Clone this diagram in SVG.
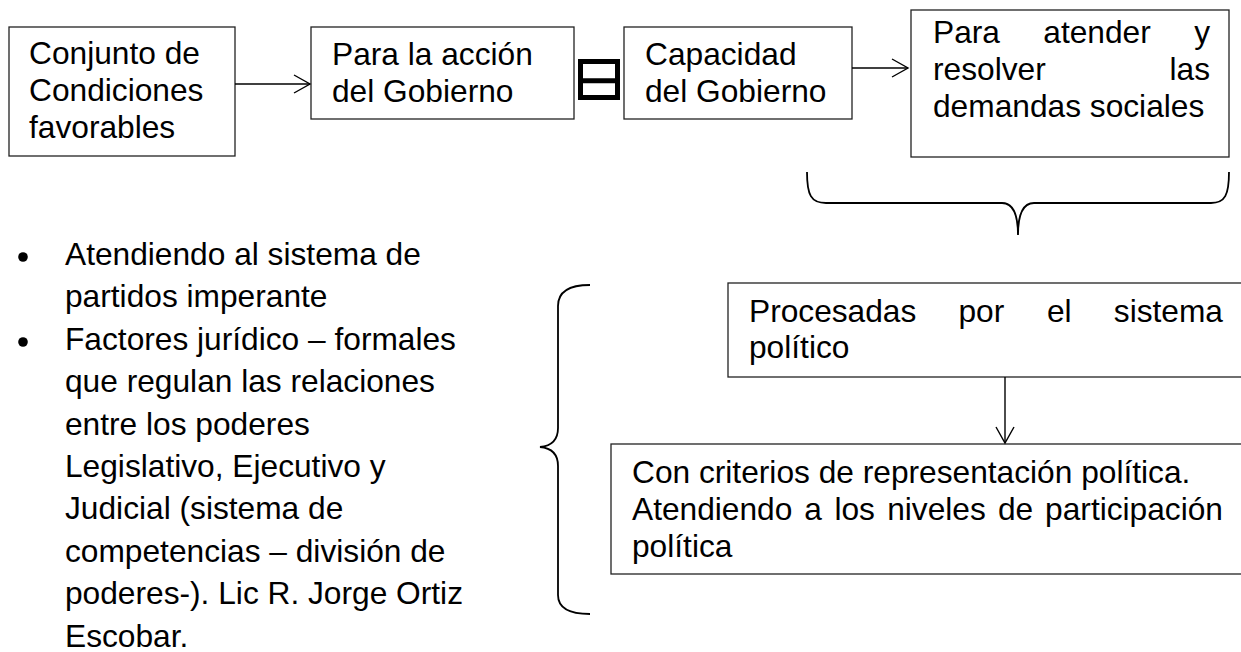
<svg xmlns="http://www.w3.org/2000/svg" width="1241" height="652" viewBox="0 0 1241 652">
<defs>
<style>
.box{fill:#fff;stroke:#222;stroke-width:1.3}
.t{font-family:"Liberation Sans",Arial,sans-serif;font-size:31.7px;fill:#000}
.c{fill:none;stroke:#000;stroke-width:1.4}
.br{fill:none;stroke:#000;stroke-width:1.8}
</style>
<marker id="chev" markerUnits="userSpaceOnUse" markerWidth="20" markerHeight="22" refX="17" refY="10" orient="auto" viewBox="0 0 20 20">
<path d="M1,1 L17,10 L1,19" fill="none" stroke="#000" stroke-width="1.4"/>
</marker>
</defs>
<rect width="1241" height="652" fill="#fff"/>

<g id="n1">
<rect class="box" x="9" y="27" width="226" height="129"/>
<text class="t"><tspan x="29" y="64">Conjunto de</tspan><tspan x="29" y="101">Condiciones</tspan><tspan x="29" y="138">favorables</tspan></text>
</g>

<g id="n2">
<rect class="box" x="311" y="27" width="263" height="92"/>
<text class="t"><tspan x="332" y="65">Para la acción</tspan><tspan x="332" y="102">del Gobierno</tspan></text>
</g>

<g id="eq">
<path d="M578,59 H620 V100 H578 Z M583,64 V78.3 H615 V64 Z M583,83.3 V95 H615 V83.3 Z" fill="#000" fill-rule="evenodd"/>
</g>

<g id="n3">
<rect class="box" x="624" y="27" width="228" height="92"/>
<text class="t"><tspan x="645" y="65">Capacidad</tspan><tspan x="645" y="102">del Gobierno</tspan></text>
</g>

<g id="n4">
<rect class="box" x="911" y="10" width="318" height="147"/>
<text class="t"><tspan x="933" y="43">Para</tspan><tspan x="1043.3" y="43">atender</tspan><tspan x="1210" y="43" text-anchor="end">y</tspan></text>
<text class="t"><tspan x="933" y="80">resolver</tspan></text>
<text class="t" x="1210" y="80" text-anchor="end">las</text>
<text class="t" x="933" y="117">demandas sociales</text>
</g>

<g id="brace-top">
<path class="br" d="M807,172 C807,195 811,203 826,203 L1002,203 C1013,203 1018,214 1018,235 C1018,214 1023,203 1034,203 L1211,203 C1225,203 1229,195 1229,172"/>
</g>

<g id="n5">
<rect class="box" x="728" y="283" width="520" height="94"/>
<text class="t" y="322"><tspan x="749">Procesadas</tspan><tspan x="958.5">por</tspan><tspan x="1046.9">el</tspan><tspan x="1223" text-anchor="end">sistema</tspan></text>
<text class="t" x="749" y="358">político</text>
</g>

<g id="n6">
<rect class="box" x="611" y="444" width="640" height="130"/>
<text class="t" x="632" y="483">Con criterios de representación política.</text>
<text class="t" y="520"><tspan x="632">Atendiendo</tspan><tspan x="804.3">a</tspan><tspan x="834.4">los</tspan><tspan x="887.2">niveles</tspan><tspan x="998">de</tspan><tspan x="1223" text-anchor="end">participación</tspan></text>
<text class="t" x="632" y="557">política</text>
</g>

<g id="brace-left">
<path class="br" d="M590,285 C569,285 558,292 558,306 L558,428 C558,440 551,446 540,447 C551,448 558,454 558,466 L558,595 C558,608 569,614 590,614"/>
</g>

<g id="bullets">
<circle cx="23" cy="257" r="4.8" fill="#000"/>
<circle cx="23" cy="342" r="4.8" fill="#000"/>
<text class="t"><tspan x="65" y="265">Atendiendo al sistema de</tspan><tspan x="65" dy="42.4">partidos imperante</tspan><tspan x="65" dy="42.4">Factores jurídico – formales</tspan><tspan x="65" dy="42.4">que regulan las relaciones</tspan><tspan x="65" dy="42.4">entre los poderes</tspan><tspan x="65" dy="42.4">Legislativo, Ejecutivo y</tspan><tspan x="65" dy="42.4">Judicial (sistema de</tspan><tspan x="65" dy="42.4">competencias – división de</tspan><tspan x="65" dy="42.4">poderes-). Lic R. Jorge Ortiz</tspan><tspan x="65" dy="42.4">Escobar.</tspan></text>
</g>

<g id="connectors">
<line class="c" x1="235" y1="84" x2="310" y2="84" marker-end="url(#chev)"/>
<line class="c" x1="852" y1="68" x2="908" y2="68" marker-end="url(#chev)"/>
<line class="c" x1="1005" y1="377" x2="1005" y2="443" marker-end="url(#chev)"/>
</g>
</svg>
